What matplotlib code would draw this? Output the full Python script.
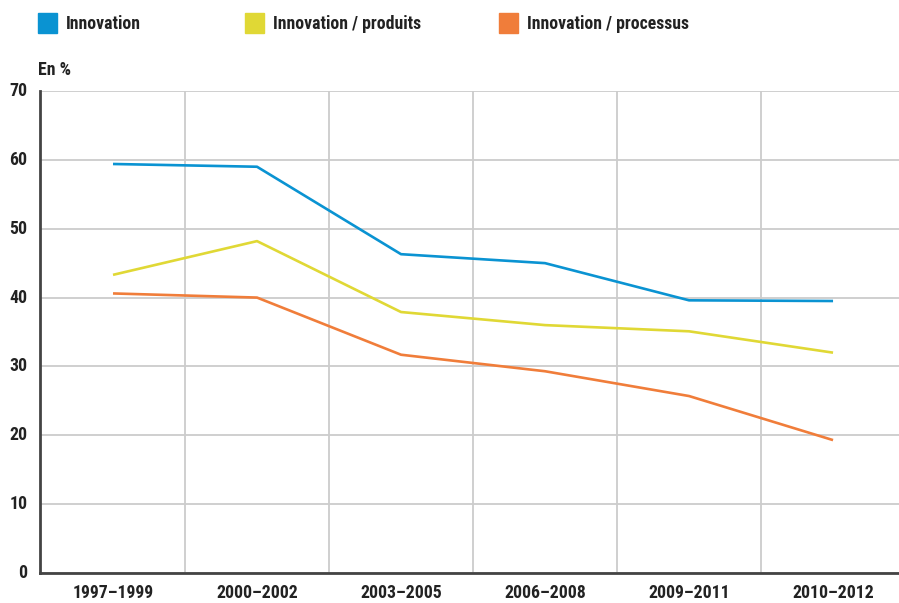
import matplotlib
matplotlib.use("Agg")
import matplotlib.pyplot as plt
from matplotlib.patches import Rectangle
from matplotlib import font_manager
import os

categories = ["1997–1999", "2000–2002", "2003–2005", "2006–2008", "2009–2011", "2010–2012"]
innovation = [59.4, 59.0, 46.3, 45.0, 39.6, 39.5]
produits = [43.3, 48.2, 37.9, 36.0, 35.1, 32.0]
processus = [40.6, 40.0, 31.7, 29.3, 25.7, 19.3]
series_labels = ["Innovation", "Innovation / produits", "Innovation / processus"]
series_colors = ["#0a93d2", "#e0d835", "#f07d3a"]
yticks = [0, 10, 20, 30, 40, 50, 60, 70]

# pick a condensed bold font file if available
files = font_manager.findSystemFonts() + [f.fname for f in font_manager.fontManager.ttflist]
cands = ["LiberationSansNarrow-Bold", "RobotoCondensed-Bold", "DejaVuSansCondensed-Bold",
         "OpenSans_Condensed-Bold", "OpenSansCondensed-Bold", "NotoSans-CondensedBold"]
chosen = None
for c in cands:
    for f in files:
        if os.path.basename(f).startswith(c):
            chosen = f
            break
    if chosen:
        break
if chosen:
    fp = font_manager.FontProperties(fname=chosen)
    fs = 12.8
else:
    fp = font_manager.FontProperties(family='DejaVu Sans', weight='bold')
    fs = 10

fig = plt.figure(figsize=(8.99, 6.03), dpi=100)
ax = fig.add_axes([40/899, 30/603, 1 - 40/899, (573-91)/603])

x = list(range(len(categories)))
for vals, c in zip([innovation, produits, processus], series_colors):
    ax.plot(x, vals, color=c, lw=1.9, solid_capstyle='butt', zorder=3)

ax.set_xlim(-0.507, 5.458)
ax.set_ylim(0, 70)
ax.set_yticks(yticks)
ax.set_yticklabels([str(v) for v in yticks], fontproperties=fp, fontsize=fs)
ax.set_xticks(x)
ax.set_xticklabels(categories, fontproperties=fp, fontsize=fs)
ax.tick_params(axis='both', length=0, colors='#222222')
ax.tick_params(axis='x', pad=8)
ax.tick_params(axis='y', pad=9)
for lab in ax.get_yticklabels():
    lab.set_verticalalignment('center')

ax.set_xticks([i + 0.5 for i in range(len(categories) - 1)], minor=True)
ax.grid(True, which='minor', axis='x', color='#cccccc', lw=1.3)
ax.grid(True, which='major', axis='y', color='#cccccc', lw=1.3)
ax.tick_params(which='minor', length=0)
ax.set_axisbelow(True)

for s in ['top', 'right']:
    ax.spines[s].set_visible(False)
for s in ['left', 'bottom']:
    ax.spines[s].set_color('#444444')
    ax.spines[s].set_linewidth(2)

fig.text(38/899, 1 - 70/603, "En %", fontproperties=fp, fontsize=fs, va='center', ha='left', color='#222222')

leg_x = [38, 245, 499]
for lx, lab, c in zip(leg_x, series_labels, series_colors):
    fig.patches.append(Rectangle((lx/899, 1 - 33/603), 19/899, 20/603,
                                 transform=fig.transFigure, color=c))
    fig.text((lx + 28)/899, 1 - 24/603, lab, fontproperties=fp, fontsize=fs,
             va='center', ha='left', color='#222222')

fig.savefig("out.png", dpi=100)
